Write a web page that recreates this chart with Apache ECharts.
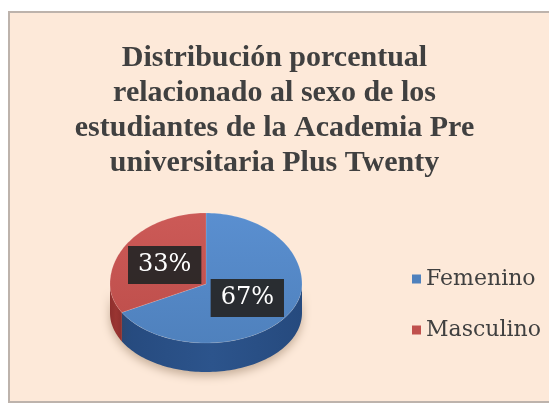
<!DOCTYPE html>
<html>
<head>
<meta charset="utf-8">
<script src="https://cdn.jsdelivr.net/npm/echarts@6/dist/echarts.min.js"></script>
<style>
  html, body { margin: 0; padding: 0; background: #fff; }
  #chart { width: 549px; height: 406px; }
</style>
</head>
<body>
<div id="chart"></div>
<script>
// datos
const sexos = ['Femenino', 'Masculino'];
const porcentajes = [67, 33];

const colores = ['#4f81bd', '#c0504d'];
const coloresClaros = ['#5a8fd0', '#cc5a57'];
const coloresLado = ['#264a7e', '#8e2f2d'];

// elipse del pastel "3D" (mitad de atrás un poco más alta, como en perspectiva)
const CX = 206, CY = 284, RX = 96, RY_TOP = 71, RY_BOT = 59, DEPTH = 29;
const total = porcentajes.reduce((a, b) => a + b, 0);

const pt = (t, dy) => {
  const c = Math.cos(t);
  const ry = c > 0 ? RY_TOP : RY_BOT;
  return [CX + RX * Math.sin(t), CY - ry * c + (dy || 0)];
};

const arc = (a, b, dy) => {
  const pts = [];
  const n = Math.max(2, Math.ceil((b - a) / 0.03));
  for (let k = 0; k <= n; k++) pts.push(pt(a + (b - a) * k / n, dy));
  return pts;
};

const renderItem = (params, api) => {
  const i = params.seriesIndex;
  const v = api.value(0);
  const antes = porcentajes.slice(0, i).reduce((a, b) => a + b, 0);
  const a0 = antes / total * Math.PI * 2;
  const a1 = (antes + v) / total * Math.PI * 2;
  const children = [];

  // lado visible (mitad inferior)
  const lo = Math.max(a0, Math.PI / 2), hi = Math.min(a1, Math.PI * 1.5);
  if (lo < hi) {
    const pts = arc(lo, hi, 0).concat(arc(lo, hi, DEPTH).reverse());
    children.push({
      type: 'polygon',
      z2: 0,
      shape: { points: pts },
      style: {
        fill: new echarts.graphic.LinearGradient(0, 0, 1, 0, [
          { offset: 0, color: coloresLado[i] },
          { offset: 0.5, color: i === 0 ? '#2c548c' : '#9a3532' },
          { offset: 1, color: coloresLado[i] }
        ]),
        shadowBlur: 10,
        shadowOffsetY: 4,
        shadowColor: 'rgba(90,60,30,0.35)'
      }
    });
  }

  // cara superior
  children.push({
    type: 'polygon',
    z2: 10,
    shape: { points: [[CX, CY]].concat(arc(a0, a1, 0)) },
    style: {
      fill: new echarts.graphic.LinearGradient(0, 0, 0, 1, [
        { offset: 0, color: coloresClaros[i] },
        { offset: 1, color: colores[i] }
      ]),
      stroke: 'rgba(255,255,255,0.25)',
      lineWidth: 0.5
    }
  });

  // etiqueta
  const m = (a0 + a1) / 2;
  const p = pt(m, 0);
  children.push({
    type: 'text',
    z2: 20,
    style: {
      x: CX + 0.5 * (p[0] - CX),
      y: CY + 0.5 * (p[1] - CY) - 1,
      text: v + '%',
      fill: '#fff',
      fontFamily: 'DejaVu Serif',
      fontSize: 24,
      align: 'center',
      verticalAlign: 'middle',
      backgroundColor: 'rgba(38,38,38,0.93)',
      padding: [8, 10, 6, 10]
    }
  });

  return { type: 'group', children };
};

const chart = echarts.init(document.getElementById('chart'));

chart.setOption({
  animation: false,
  graphic: [{
    type: 'rect',
    z: -10,
    shape: { x: 9, y: 12, width: 600, height: 390 },
    style: { fill: '#fde9d9', stroke: '#bdb3ac', lineWidth: 2 }
  }],
  title: {
    text: 'Distribución porcentual\nrelacionado al sexo de los\nestudiantes de la Academia Pre\nuniversitaria Plus Twenty',
    left: 'center',
    top: 41,
    padding: 0,
    textStyle: {
      fontFamily: 'Liberation Serif',
      fontWeight: 'bold',
      fontSize: 30,
      lineHeight: 35,
      color: '#404040'
    }
  },
  legend: {
    orient: 'vertical',
    left: 407,
    top: 263,
    itemWidth: 9,
    itemHeight: 9,
    itemGap: 29,
    icon: 'rect',
    data: sexos,
    textStyle: {
      fontFamily: 'DejaVu Serif',
      fontSize: 22,
      lineHeight: 22,
      color: '#404040'
    }
  },
  series: sexos.map((s, i) => ({
    name: s,
    type: 'custom',
    coordinateSystem: 'none',
    itemStyle: { color: colores[i] },
    renderItem: renderItem,
    data: [porcentajes[i]]
  }))
});

window.addEventListener('resize', () => chart.resize());
</script>
</body>
</html>
